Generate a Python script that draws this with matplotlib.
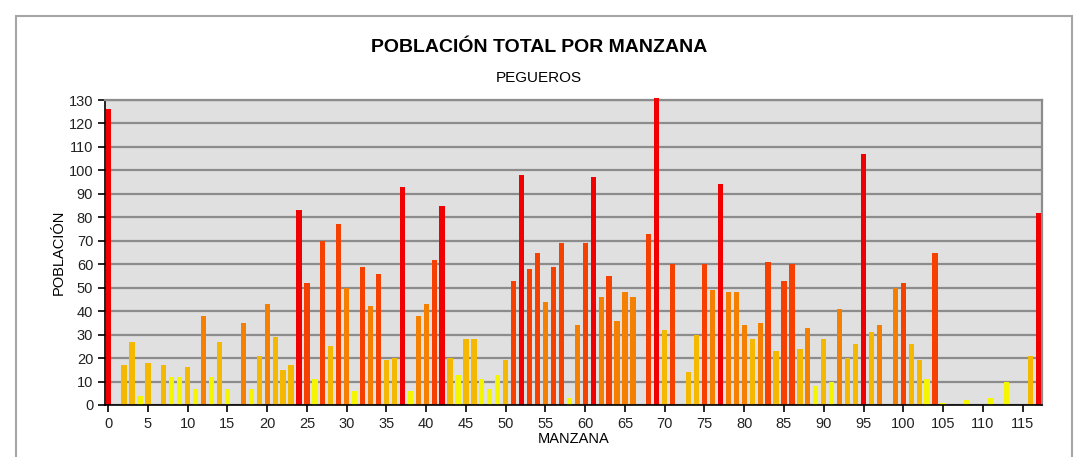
import numpy as np
import matplotlib
matplotlib.use("Agg")
from matplotlib import pyplot as plt
from matplotlib.patches import Rectangle

plt.rcParams['font.family'] = ['Liberation Sans', 'DejaVu Sans']

# Población por manzana (0..117)
manzanas = list(range(118))
poblacion = [
    126, 0, 17, 27, 4, 18, 0, 17, 12, 12,      # 0-9
    16, 7, 38, 12, 27, 7, 0, 35, 7, 21,        # 10-19
    43, 29, 15, 17, 83, 52, 11, 70, 25, 77,    # 20-29
    50, 6, 59, 42, 56, 19, 20, 93, 6, 38,      # 30-39
    43, 62, 85, 20, 13, 28, 28, 11, 7, 13,     # 40-49
    19, 53, 98, 58, 65, 44, 59, 69, 3, 34,     # 50-59
    69, 97, 46, 55, 36, 48, 46, 0, 73, 131,    # 60-69
    32, 60, 0, 14, 30, 60, 49, 94, 48, 48,     # 70-79
    34, 28, 35, 61, 23, 53, 60, 24, 33, 8,     # 80-89
    28, 10, 41, 20, 26, 107, 31, 34, 0, 50,    # 90-99
    52, 26, 19, 11, 65, 1, 0, 0, 2, 0,         # 100-109
    0, 3, 0, 10, 0, 0, 21, 82,                 # 110-117
]

# Clases de color por rango de población
limites = [13.5, 32.5, 50.5, 80.5]
colores_clase = ['#F5F500', '#F5B800', '#F57F00', '#F54000', '#F00000']

clase = np.digitize(poblacion, limites)
colores = [colores_clase[c] for c in clase]

fig = plt.figure(figsize=(10.78, 4.57), dpi=100)
ax = fig.add_axes([105 / 1078, 1 - 405 / 457, 937 / 1078, 305 / 457])

# Marco exterior gris
fig.patches.append(Rectangle((16 / 1078, -0.05), (1072 - 16) / 1078, 1.05 - 16 / 457,
                             transform=fig.transFigure, fill=False,
                             edgecolor='#A6A6A6', linewidth=1.5))

ax.set_facecolor('#E0E0E0')
barras = ax.bar(manzanas, poblacion, width=0.66, color=colores, zorder=3)
for b in barras:
    b.set_clip_on(False)

ax.set_xlim(-0.4, 117.45)
ax.set_ylim(0, 130)
ax.set_yticks(range(0, 131, 10))
ax.set_xticks(range(0, 116, 5))
ax.yaxis.grid(True, color='#8C8C8C', linewidth=1.6, zorder=0)
ax.set_axisbelow(True)

for s in ['top', 'right']:
    ax.spines[s].set_color('#8C8C8C')
    ax.spines[s].set_linewidth(1.6)
for s in ['left', 'bottom']:
    ax.spines[s].set_color('black')
    ax.spines[s].set_linewidth(1.2)
ax.spines['bottom'].set_zorder(4)

ax.tick_params(axis='both', which='major', labelsize=10.5, length=5,
               width=1.2, direction='out', colors='black', labelcolor='#222222')

ax.set_ylabel('POBLACIÓN', fontsize=10.5, labelpad=2)
ax.set_xlabel('MANZANA', fontsize=10.5, labelpad=1)

fig.text(0.5, 1 - 47 / 457, 'POBLACIÓN TOTAL POR MANZANA', ha='center',
         va='center', fontsize=14, fontweight='bold')
fig.text(0.5, 1 - 78 / 457, 'PEGUEROS', ha='center', va='center', fontsize=11)

fig.savefig('out.png', dpi=100)
